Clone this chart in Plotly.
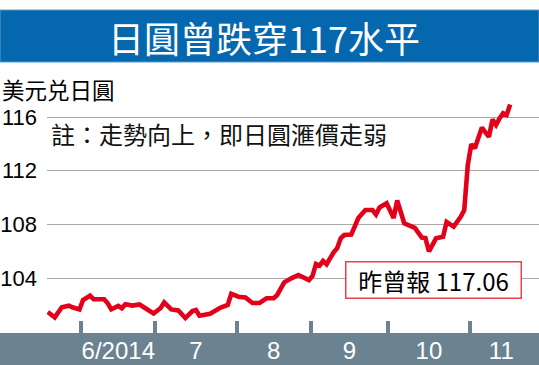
import plotly.graph_objects as go
import pandas as pd

# ---- data ----
dates = [
    "2014-05-19", "2014-05-21", "2014-05-23", "2014-05-27", "2014-05-28", "2014-05-30",
    "2014-06-02", "2014-06-04", "2014-06-05", "2014-06-10", "2014-06-11", "2014-06-12",
    "2014-06-16", "2014-06-17", "2014-06-18", "2014-06-20", "2014-06-24", "2014-06-26",
    "2014-06-30", "2014-07-02", "2014-07-03", "2014-07-07", "2014-07-09", "2014-07-11",
    "2014-07-15", "2014-07-16", "2014-07-17", "2014-07-22", "2014-07-25", "2014-07-29",
    "2014-07-30", "2014-08-01", "2014-08-05", "2014-08-07", "2014-08-11", "2014-08-13",
    "2014-08-15", "2014-08-18", "2014-08-19", "2014-08-20", "2014-08-22", "2014-08-26",
    "2014-08-29", "2014-09-01", "2014-09-02", "2014-09-03", "2014-09-04", "2014-09-05",
    "2014-09-09", "2014-09-10", "2014-09-11", "2014-09-12", "2014-09-16", "2014-09-18",
    "2014-09-22", "2014-09-24", "2014-09-25", "2014-09-26", "2014-09-30", "2014-10-01",
    "2014-10-02", "2014-10-03", "2014-10-07", "2014-10-10", "2014-10-14", "2014-10-15",
    "2014-10-16", "2014-10-20", "2014-10-22", "2014-10-23", "2014-10-27", "2014-10-29",
    "2014-10-30", "2014-10-31", "2014-11-03", "2014-11-04", "2014-11-06", "2014-11-07",
    "2014-11-10", "2014-11-11", "2014-11-12", "2014-11-13", "2014-11-14", "2014-11-17",
    "2014-11-18",
]
usd_jpy = [
    101.47, 101.07, 101.82, 101.94, 101.82, 101.66,
    102.36, 102.68, 102.42, 102.42, 102.12, 101.67,
    101.92, 101.75, 102.04, 101.95, 102.03, 101.67,
    101.36, 101.77, 102.18, 101.66, 101.58, 101.02,
    101.54, 101.62, 101.19, 101.34, 101.80, 101.99,
    102.83, 102.61, 102.55, 102.14, 102.15, 102.49,
    102.49, 102.74, 103.18, 103.68, 103.98, 104.23,
    103.85, 104.15, 105.05, 104.92, 105.27, 105.02,
    105.92, 106.22, 106.96, 107.21, 107.24, 108.47,
    109.07, 109.07, 108.73, 109.26, 109.57, 109.00,
    108.47, 109.78, 108.08, 107.73, 107.02, 106.98,
    105.98, 106.96, 107.08, 108.18, 107.83, 108.57,
    109.07, 112.42, 113.97, 113.67, 115.22, 114.85,
    114.53, 115.81, 115.40, 115.90, 116.28, 116.15,
    116.93,
]
y_ticks = [104, 108, 112, 116]
month_labels = ["6/2014", "7", "8", "9", "10", "11"]
month_starts = ["2014-06", "2014-07", "2014-08", "2014-09", "2014-10", "2014-11"]

title_text = "日圓曾跌穿117水平"
unit_text = "美元兑日圓"
note_text = "註：走勢向上，即日圓滙價走弱"
callout_text = "昨曾報 117.06"

# ---- trading-day positions ----
bdays = pd.bdate_range("2014-05-19", "2014-11-26")
pos = {d.strftime("%Y-%m-%d"): i for i, d in enumerate(bdays)}
x_idx = [pos[d] for d in dates]
months = list(bdays.strftime("%Y-%m"))
firsts = [months.index(m) for m in month_starts]
lasts = [len(months) - 1 - months[::-1].index(m) for m in month_starts]
boundaries = [f - 0.5 for f in firsts]
mids = [(f + l) / 2 for f, l in zip(firsts, lasts)]

RED = "#e3001b"
BAND = "#6b8391"
BLUE = "#0567ae"
LAT = "Liberation Sans, Arial, sans-serif"
CJK = "Noto Sans CJK TC, sans-serif"

W, H = 539, 365
ML, MR, MT, MB = 47, 0, 95, 32
PW, PH = W - ML - MR, H - MT - MB


def px_x(px):
    return (px - ML) / PW


def px_y(py):
    return 1 - (py - MT) / PH


fig = go.Figure()
fig.add_trace(go.Scatter(
    x=x_idx, y=usd_jpy, mode="lines",
    line=dict(color=RED, width=4.6, shape="linear"),
    hoverinfo="skip", showlegend=False,
))
fig.add_trace(go.Scatter(
    x=x_idx, y=usd_jpy, mode="lines", xaxis="x2",
    line=dict(width=0), opacity=0, hoverinfo="skip", showlegend=False,
))

xr = [-0.2, -0.2 + PW / 3.53]
fig.update_layout(
    width=W, height=H,
    margin=dict(l=ML, r=MR, t=MT, b=MB, pad=0),
    paper_bgcolor="white", plot_bgcolor="white",
    xaxis=dict(
        range=xr, showgrid=False, zeroline=False, showline=False,
        tickmode="array", tickvals=mids, ticktext=month_labels,
        ticks="", tickfont=dict(family=LAT, size=24, color="white"),
        ticklabelstandoff=1,
    ),
    xaxis2=dict(
        range=xr, overlaying="x", anchor="y", side="bottom",
        showgrid=False, zeroline=False, showline=False,
        tickmode="array", tickvals=boundaries, ticktext=[""] * len(boundaries),
        ticks="inside", ticklen=12, tickwidth=3.5, tickcolor=BAND,
    ),
    yaxis=dict(
        range=[116 - (PH - (117 - MT)) / 13.42, 116 + (117 - MT) / 13.42],
        tickmode="array", tickvals=y_ticks,
        showgrid=True, gridcolor="#a8a8a8", gridwidth=1.3,
        zeroline=False, showline=False, ticks="",
        tickfont=dict(family=LAT, size=22, color="black"),
        ticklabelstandoff=9,
    ),
    shapes=[
        dict(type="rect", xref="paper", yref="paper",
             x0=px_x(0), x1=px_x(W), y0=px_y(H), y1=px_y(333),
             fillcolor=BAND, line=dict(width=0), layer="below"),
        dict(type="rect", xref="paper", yref="paper",
             x0=px_x(0), x1=px_x(W), y0=px_y(62), y1=px_y(10),
             fillcolor=BLUE, line=dict(width=1, color="#5b9bd0")),
    ],
    annotations=[
        dict(text=title_text, xref="paper", yref="paper",
             x=px_x(264), y=px_y(36.5), xanchor="center", yanchor="middle",
             showarrow=False, font=dict(family=CJK, size=36, color="white")),
        dict(text=unit_text, xref="paper", yref="paper",
             x=px_x(0), y=px_y(89), xanchor="left", yanchor="middle",
             showarrow=False, font=dict(family=CJK, size=22.5, color="black")),
        dict(text=note_text, xref="paper", yref="paper",
             x=px_x(49), y=px_y(133), xanchor="left", yanchor="middle",
             showarrow=False, font=dict(family=CJK, size=24, color="#111111")),
        dict(text=callout_text, xref="paper", yref="paper",
             x=px_x(433), y=px_y(280.3), xanchor="center", yanchor="middle",
             showarrow=False, bgcolor="white", bordercolor="#e8414b",
             borderwidth=1.5, borderpad=1, width=172, height=33,
             font=dict(family=CJK, size=24, color="black")),
    ],
)

fig.write_html("out.html")
